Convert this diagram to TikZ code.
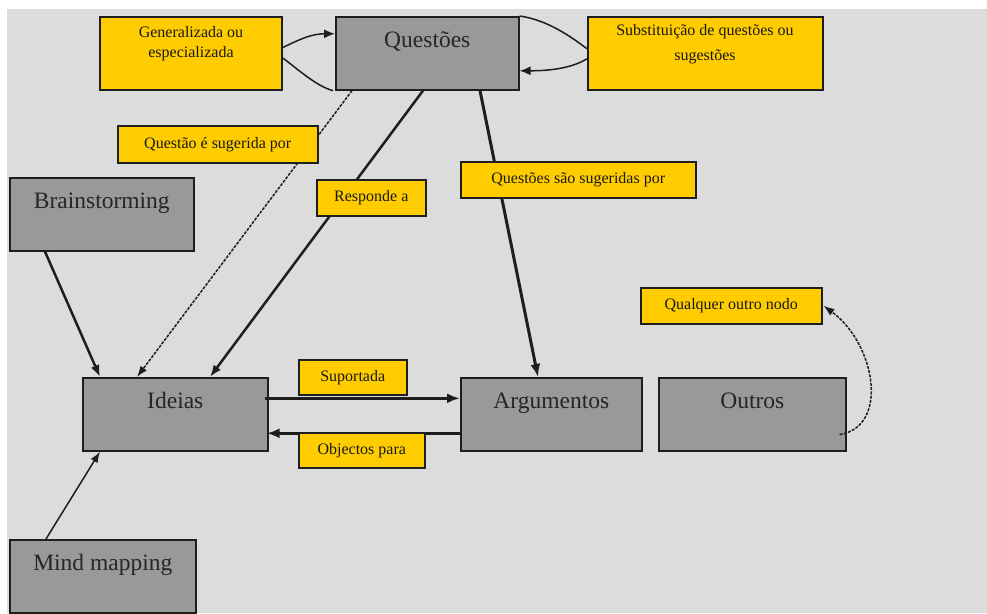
\documentclass[tikz,border=0pt]{standalone}
\usepackage{fontspec}
\setmainfont{Liberation Serif}
\usetikzlibrary{arrows.meta}
\definecolor{bgcol}{HTML}{DCDCDC}
\definecolor{boxgray}{HTML}{999999}
\definecolor{labelyel}{HTML}{FFCC00}
\definecolor{edgecol}{HTML}{1E1E1E}
\pgfdeclarelayer{canvas}
\pgfdeclarelayer{concepts}
\pgfdeclarelayer{links}
\pgfsetlayers{canvas,concepts,links,main}
\begin{document}
\begin{tikzpicture}[x=1pt,y=-1pt,
  entity/.style={draw=edgecol, line width=1.6pt, fill=boxgray, inner sep=0pt,
    anchor=north west, text height=31pt, text depth=42pt,
    font=\fontsize{23.5}{26}\selectfont, text=black!85},
  tagbox/.style={draw=edgecol, line width=1.5pt, fill=labelyel, inner sep=0pt,
    anchor=north west, font=\fontsize{16}{20}\selectfont, text=black!90},
  tagtext/.style={inner sep=0pt, anchor=north, align=center,
    font=\fontsize{16}{20}\selectfont, text=black!90},
  heavy/.style={draw=edgecol, line width=3pt, -{Latex[length=13pt,width=10pt]}},
  medium/.style={draw=edgecol, line width=2.5pt, -{Latex[length=12pt,width=9pt]}},
  light/.style={draw=edgecol, line width=1.5pt},
  lighttip/.style={light, -{Latex[length=11pt,width=8pt]}},
  broken/.style={dash pattern=on 3pt off 1.3pt}]

% canvas
\begin{pgfonlayer}{canvas}
\useasboundingbox (0,0) rectangle (987,613);
\fill[white] (0,0) rectangle (987,613);
\fill[bgcol] (7,9) rectangle (987,613);
\end{pgfonlayer}

% main concepts
\begin{pgfonlayer}{concepts}
\node[entity, minimum width=183pt] (q) at (335,16) {Questões};
\node[entity, minimum width=184pt] (brain) at (9,177) {Brainstorming};
\node[entity, minimum width=185pt] (ideias) at (82,377) {Ideias};
\node[entity, minimum width=181pt] (arg) at (460,377) {Argumentos};
\node[entity, minimum width=187pt] (outros) at (658,377) {Outros};
\node[entity, minimum width=186pt] (mind) at (9,539) {Mind mapping\hspace{14pt}};
\end{pgfonlayer}

% relation labels
\node[tagbox, minimum width=182pt, minimum height=73pt] (gen) at (99,16) {};
\node[tagtext] (gentxt) at (191,26) {Generalizada ou\\especializada};
\node[tagbox, minimum width=235pt, minimum height=73pt] (sub) at (587,16) {};
\node[tagtext, font=\fontsize{16}{25}\selectfont] (subtxt) at (705,24) {Substituição de questões ou\\sugestões};

\node[tagbox, minimum width=200pt, minimum height=37pt] (qsug) at (117,125) {Questão é sugerida por};
\node[tagbox, minimum width=109pt, minimum height=36pt] (resp) at (316,179) {Responde a};
\node[tagbox, minimum width=235pt, minimum height=36pt] (qsao) at (460,161) {Questões são sugeridas por};
\node[tagbox, minimum width=181pt, minimum height=36pt] (qual) at (640,287) {Qualquer outro nodo};
\node[tagbox, minimum width=108pt, minimum height=35pt] (sup) at (298,359) {Suportada};
\node[tagbox, minimum width=126pt, minimum height=35pt] (obj) at (298,432) {Objectos para};

\begin{pgfonlayer}{links}
% loops on Questões
\draw[light, -{Latex[length=11pt,width=9pt]}] ([yshift=5.5pt]gen.east)
  .. controls +(20,-10) and +(-22,0) .. ([yshift=19.5pt]q.west);
\draw[light] ([yshift=-4.5pt]gen.east)
  .. controls +(16,12) and +(-16,-4) .. ([xshift=-2pt]q.south west);
\draw[light] (q.north east)
  .. controls +(28,4) and +(-16,-12) .. ([yshift=4.5pt]sub.west);
\draw[light, -{Latex[length=11pt,width=9pt]}] ([yshift=-5.5pt]sub.west)
  .. controls +(-16,10) and +(28,0) .. ([yshift=-17.5pt]q.east);

% links from Questões
\draw[lighttip, broken] ([xshift=17pt]q.south west) -- ([xshift=55pt]ideias.north west);
\draw[medium] ([xshift=88pt]q.south west) -- ([xshift=128pt]ideias.north west);
\draw[heavy] ([xshift=145pt]q.south west) -- ([xshift=78pt]arg.north west);

% sources of ideas
\draw[medium] ([xshift=36pt]brain.south west) -- ([xshift=18pt]ideias.north west);
\draw[lighttip] ([xshift=37pt]mind.north west) -- ([xshift=18pt]ideias.south west);

% between Ideias and Argumentos
\draw[heavy] ([yshift=16pt,xshift=-4pt]ideias.east) -- ([yshift=16pt]arg.west);
\draw[heavy] ([yshift=-19pt,xshift=2pt]arg.west) -- ([yshift=-19pt,xshift=-2pt]ideias.east);

% Outros to any other node
\draw[lighttip, broken] ([xshift=-7pt,yshift=17pt]outros.south east)
  .. controls +(50,-8) and +(52,38) .. ([xshift=1pt]qual.east);
\end{pgfonlayer}

\end{tikzpicture}
\end{document}
